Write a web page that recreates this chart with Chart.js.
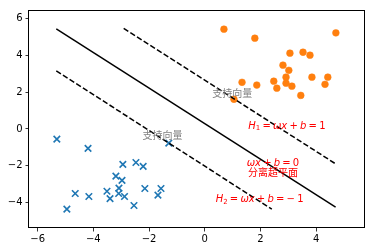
<!DOCTYPE html>
<html><head><meta charset="utf-8">
<script src="https://cdn.jsdelivr.net/npm/chart.js@4/dist/chart.umd.min.js"></script>
<style>html,body{margin:0;padding:0;background:#fff}#wrap{width:374px;height:252px}</style>
</head><body><div id="wrap"><canvas id="c" width="374" height="252"></canvas></div>
<script>
// ---- data ----
const xTicks = [-6, -4, -2, 0, 2, 4];
const yTicks = [-4, -2, 0, 2, 4, 6];
const posX = [0.69, 1.80, 4.71, 3.06, 3.53, 3.78, 2.81, 3.02, 2.92, 1.34, 1.87, 2.48, 2.59, 2.92, 3.13, 3.85, 4.42, 4.32, 3.45, 1.05];
const posY = [5.41, 4.92, 5.21, 4.11, 4.16, 4.00, 3.46, 3.18, 2.81, 2.53, 2.38, 2.59, 2.21, 2.48, 2.32, 2.81, 2.81, 2.42, 1.82, 1.61];
const negX = [-5.31, -4.19, -2.94, -2.47, -2.21, -3.19, -2.97, -4.65, -4.16, -3.51, -3.08, -3.09, -3.40, -2.88, -2.15, -1.57, -1.68, -2.54, -4.95, -1.29];
const negY = [-0.55, -1.05, -1.92, -1.82, -2.03, -2.56, -2.79, -3.50, -3.66, -3.38, -3.21, -3.50, -3.78, -3.66, -3.23, -3.23, -3.59, -4.15, -4.35, -0.77];
const hyperX = [-5.33, 4.70], hyperY = [5.43, -4.24];
const upperX = [-2.91, 4.70], upperY = [5.45, -1.89];
const lowerX = [-5.33, 2.41], lowerY = [3.15, -4.35];
// annotations
const svText = '支持向量';
const svX = [0.99, -1.52], svY = [1.95, -0.33];
const planeText = '分离超平面';
const planeX = 2.45, planeY = -2.37;
const mathLabels = [
  {x: 2.95, y: 0.16, segs: [['H','i'],['1','sub'],['g'],['=','n'],['g'],['ωx','i'],['g'],['+','n'],['g'],['b','i'],['g'],['=','n'],['g'],['1','n']]},
  {x: 2.45, y: -1.85, segs: [['ωx','i'],['g'],['+','n'],['g'],['b','i'],['g'],['=','n'],['g'],['0','n']]},
  {x: 1.97, y: -3.84, segs: [['H','i'],['2','sub'],['g'],['=','n'],['g'],['ωx','i'],['g'],['+','n'],['g'],['b','i'],['g'],['=','n'],['g'],['−','n'],['g'],['1','n']]}
];

const pts = (xs, ys) => xs.map((v, i) => ({x: v, y: ys[i]}));
const minus = v => String(v).replace('-', '\u2212');

const annot = {
  id: 'annot',
  afterDatasetsDraw(chart) {
    const {ctx, chartArea: a, scales: {x, y}} = chart;
    ctx.save();
    ctx.font = '10px "Noto Sans CJK SC"';
    ctx.fillStyle = 'gray';
    ctx.textAlign = 'center';
    ctx.textBaseline = 'middle';
    svX.forEach((v, i) => ctx.fillText(svText, x.getPixelForValue(v), y.getPixelForValue(svY[i])));
    ctx.fillStyle = 'red';
    ctx.fillText(planeText, x.getPixelForValue(planeX), y.getPixelForValue(planeY));
    const fs = 10, gap = 2.2;
    const fontOf = k => k === 'i' ? `oblique ${fs}px "DejaVu Sans"` : k === 'sub' ? `${fs*0.7}px "DejaVu Sans"` : `${fs}px "DejaVu Sans"`;
    ctx.textAlign = 'left';
    mathLabels.forEach(m => {
      let w = 0;
      m.segs.forEach(s => { if (s[0] === 'g') w += gap; else { ctx.font = fontOf(s[1]); w += ctx.measureText(s[0]).width; } });
      let px = x.getPixelForValue(m.x) - w / 2;
      const py = y.getPixelForValue(m.y);
      m.segs.forEach(s => {
        if (s[0] === 'g') { px += gap; return; }
        ctx.font = fontOf(s[1]);
        ctx.fillText(s[0], px, s[1] === 'sub' ? py + 2.5 : py);
        px += ctx.measureText(s[0]).width;
      });
    });
    ctx.strokeStyle = '#000';
    ctx.lineWidth = 1;
    ctx.strokeRect(Math.round(a.left) - 0.5, Math.round(a.top) + 0.5, Math.round(a.right) - Math.round(a.left) + 1, Math.round(a.bottom) - Math.round(a.top) - 1);
    ctx.restore();
  }
};

new Chart(document.getElementById('c'), {
  type: 'scatter',
  data: {
    datasets: [
      {data: pts(hyperX, hyperY), showLine: true, borderColor: '#000', borderWidth: 1.5, pointRadius: 0},
      {data: pts(upperX, upperY), showLine: true, borderColor: '#000', borderWidth: 1.5, borderDash: [5.5, 2.4], pointRadius: 0},
      {data: pts(lowerX, lowerY), showLine: true, borderColor: '#000', borderWidth: 1.5, borderDash: [5.5, 2.4], pointRadius: 0},
      {data: pts(posX, posY), pointStyle: 'circle', pointRadius: 3.4, backgroundColor: '#ff7f0e', borderColor: '#ff7f0e', borderWidth: 0.5},
      {data: pts(negX, negY), pointStyle: 'crossRot', pointRadius: 4.6, borderColor: '#1f77b4', borderWidth: 1.6}
    ]
  },
  options: {
    responsive: false, animation: false, devicePixelRatio: 1,
    layout: {padding: {top: 10, right: 10, left: 0, bottom: 0}},
    plugins: {legend: {display: false}, tooltip: {enabled: false}},
    scales: {
      x: {
        type: 'linear', min: -6.31, max: 5.72,
        afterBuildTicks: s => { s.ticks = xTicks.map(v => ({value: v})); },
        afterFit: s => { s.height = 24; },
        border: {display: false},
        grid: {drawOnChartArea: false, drawTicks: true, tickLength: 3.5, tickColor: '#000', tickWidth: 0.8},
        ticks: {color: '#000', font: {family: 'DejaVu Sans', size: 10}, padding: 2, maxRotation: 0, callback: v => minus(v)}
      },
      y: {
        type: 'linear', min: -5.37, max: 6.45,
        afterBuildTicks: s => { s.ticks = yTicks.map(v => ({value: v})); },
        afterFit: s => { s.width = 29; },
        border: {display: false},
        grid: {drawOnChartArea: false, drawTicks: true, tickLength: 3.5, tickColor: '#000', tickWidth: 0.8},
        ticks: {color: '#000', font: {family: 'DejaVu Sans', size: 10}, padding: 3, callback: v => minus(v)}
      }
    }
  },
  plugins: [annot]
});
</script>
</body></html>
